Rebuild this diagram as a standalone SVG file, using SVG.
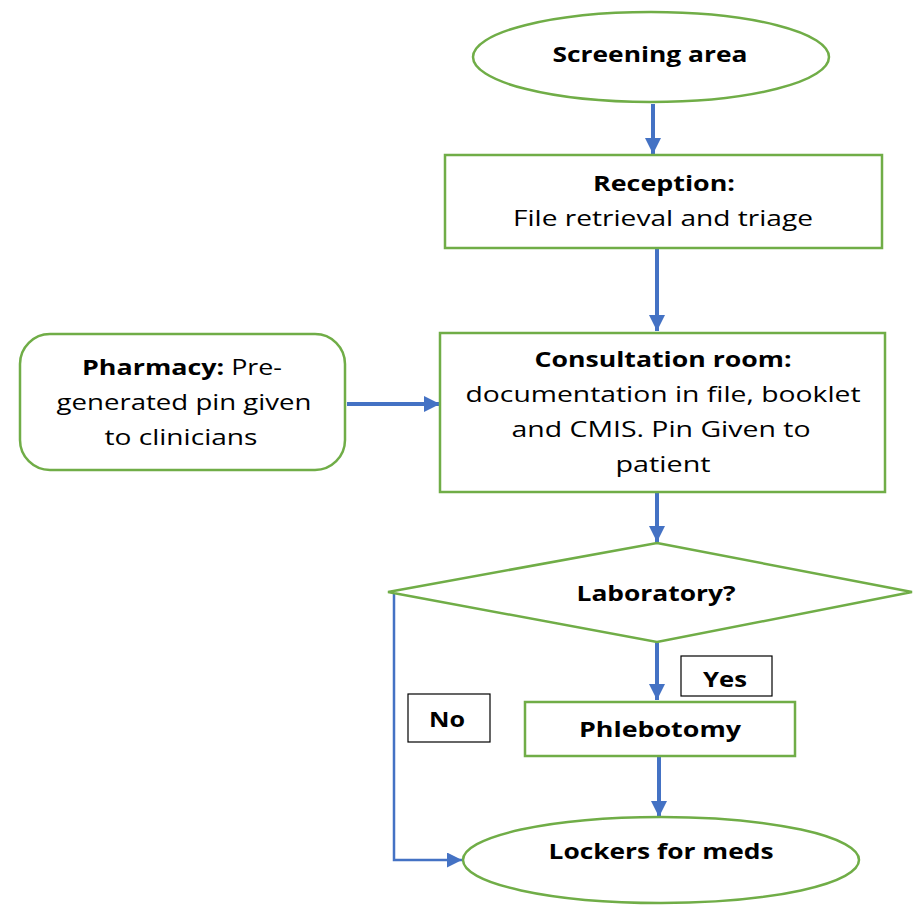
<svg xmlns="http://www.w3.org/2000/svg" width="913" height="905" viewBox="0 0 913 905">
<style>
.node{fill:#fff;stroke:#70AD47;stroke-width:2.5}
.lbl{fill:#fff;stroke:#000;stroke-width:1.2}
text{font-family:"Open Sans","DejaVu Sans",sans-serif;font-size:22px;fill:#000;text-anchor:middle}
.b{font-weight:bold}
.c{fill:none;stroke:#4472C4;stroke-width:4}
.thin{fill:none;stroke:#4472C4;stroke-width:2.5}
</style>
<defs>
<marker id="ah" viewBox="0 0 10 10" refX="10" refY="5" markerWidth="4" markerHeight="4" markerUnits="strokeWidth" orient="auto">
<path d="M0,0 L10,5 L0,10 z" fill="#4472C4"/>
</marker>
<marker id="ah2" viewBox="0 0 10 10" refX="10" refY="5" markerWidth="6" markerHeight="6" markerUnits="strokeWidth" orient="auto">
<path d="M0,0 L10,5 L0,10 z" fill="#4472C4"/>
</marker>
</defs>
<rect width="913" height="905" fill="#fff"/>
<g id="connectors">
<line class="c" x1="653" y1="104" x2="653" y2="154" marker-end="url(#ah)"/>
<line class="c" x1="657" y1="249" x2="657" y2="331" marker-end="url(#ah)"/>
<line class="c" x1="347" y1="404" x2="440" y2="404" marker-end="url(#ah)"/>
<line class="c" x1="657" y1="493" x2="657" y2="542" marker-end="url(#ah)"/>
<line class="c" x1="657" y1="643" x2="657" y2="700" marker-end="url(#ah)"/>
<line class="c" x1="659" y1="757" x2="659" y2="817" marker-end="url(#ah)"/>
<polyline class="thin" points="394,592 394,860 462,860" marker-end="url(#ah2)"/>
</g>
<g id="screening">
<ellipse class="node" cx="651" cy="57" rx="178" ry="45"/>
<text class="b" x="650" y="62" textLength="195" lengthAdjust="spacingAndGlyphs">Screening area</text>
</g>
<g id="reception">
<rect class="node" x="445" y="155" width="437" height="93"/>
<text class="b" x="664" y="191" textLength="142" lengthAdjust="spacingAndGlyphs">Reception:</text>
<text x="663" y="226" textLength="300" lengthAdjust="spacingAndGlyphs">File retrieval and triage</text>
</g>
<g id="pharmacy">
<rect class="node" x="20" y="334" width="325" height="136" rx="30"/>
<text x="182" y="375" textLength="200" lengthAdjust="spacingAndGlyphs"><tspan class="b">Pharmacy:</tspan> Pre-</text>
<text x="184" y="410" textLength="255" lengthAdjust="spacingAndGlyphs">generated pin given</text>
<text x="181" y="445" textLength="153" lengthAdjust="spacingAndGlyphs">to clinicians</text>
</g>
<g id="consultation">
<rect class="node" x="440" y="333" width="445" height="159"/>
<text class="b" x="663" y="367" textLength="257" lengthAdjust="spacingAndGlyphs">Consultation room:</text>
<text x="663" y="402" textLength="395" lengthAdjust="spacingAndGlyphs">documentation in file, booklet</text>
<text x="661" y="437" textLength="299" lengthAdjust="spacingAndGlyphs">and CMIS. Pin Given to</text>
<text x="663" y="472" textLength="95" lengthAdjust="spacingAndGlyphs">patient</text>
</g>
<g id="laboratory">
<polygon class="node" points="657,543 912,592 657,642 388,592"/>
<text class="b" x="656" y="601" textLength="159" lengthAdjust="spacingAndGlyphs">Laboratory?</text>
</g>
<g id="yes">
<rect class="lbl" x="681" y="656" width="91" height="40"/>
<text class="b" x="725" y="687" textLength="44" lengthAdjust="spacingAndGlyphs">Yes</text>
</g>
<g id="no">
<rect class="lbl" x="408" y="694" width="82" height="48"/>
<text class="b" x="447" y="727" textLength="36" lengthAdjust="spacingAndGlyphs">No</text>
</g>
<g id="phlebotomy">
<rect class="node" x="525" y="702" width="270" height="54"/>
<text class="b" x="660" y="737" textLength="162" lengthAdjust="spacingAndGlyphs">Phlebotomy</text>
</g>
<g id="lockers">
<ellipse class="node" cx="661" cy="860" rx="198" ry="43"/>
<text class="b" x="661" y="859" textLength="225" lengthAdjust="spacingAndGlyphs">Lockers for meds</text>
</g>
</svg>
